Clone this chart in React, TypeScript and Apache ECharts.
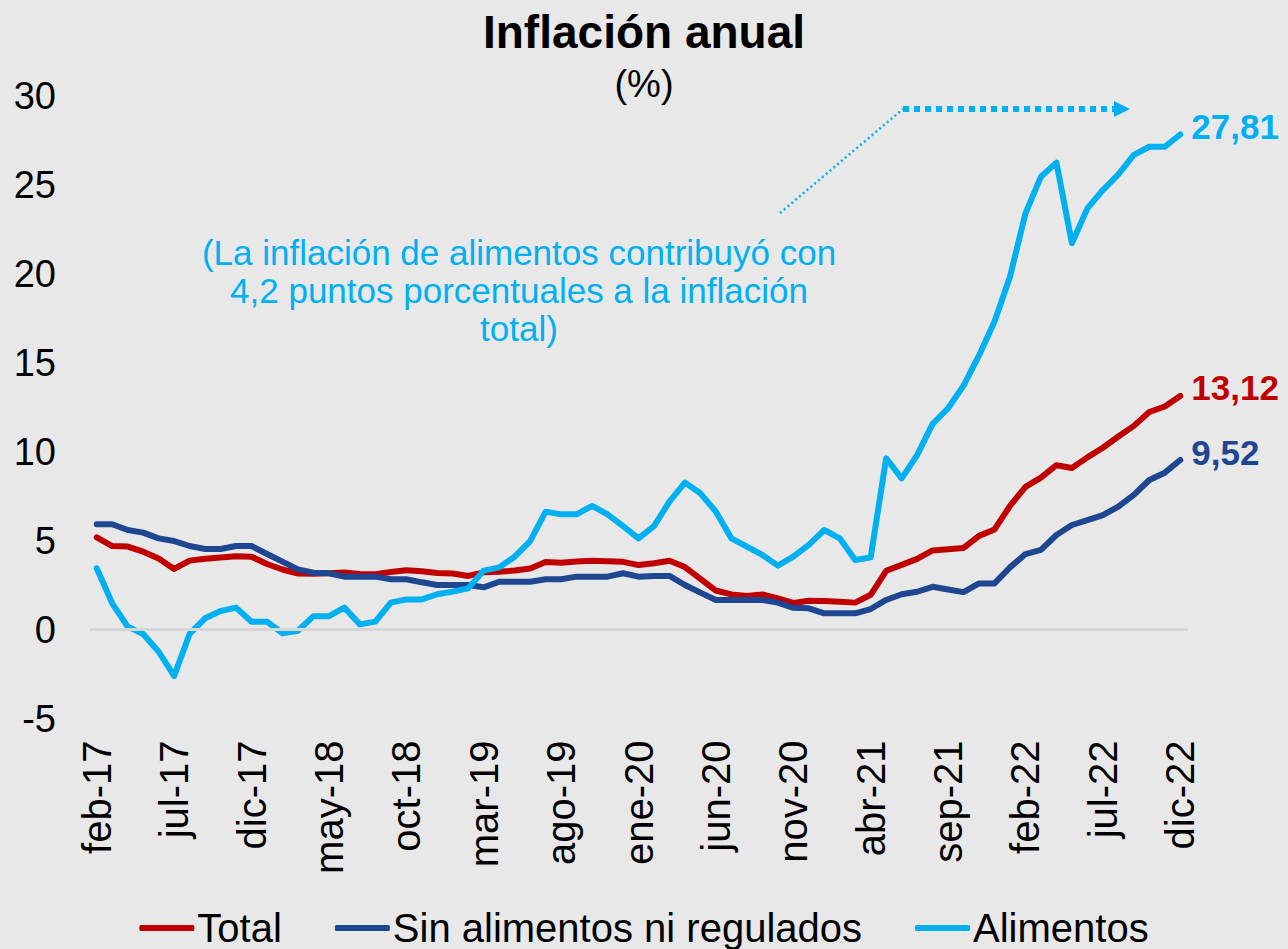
import React, { useEffect, useRef } from "react";
import * as echarts from "echarts";

const months: string[] = [
  "feb-17","mar-17","abr-17","may-17","jun-17","jul-17","ago-17","sep-17","oct-17","nov-17","dic-17",
  "ene-18","feb-18","mar-18","abr-18","may-18","jun-18","jul-18","ago-18","sep-18","oct-18","nov-18","dic-18",
  "ene-19","feb-19","mar-19","abr-19","may-19","jun-19","jul-19","ago-19","sep-19","oct-19","nov-19","dic-19",
  "ene-20","feb-20","mar-20","abr-20","may-20","jun-20","jul-20","ago-20","sep-20","oct-20","nov-20","dic-20",
  "ene-21","feb-21","mar-21","abr-21","may-21","jun-21","jul-21","ago-21","sep-21","oct-21","nov-21","dic-21",
  "ene-22","feb-22","mar-22","abr-22","may-22","jun-22","jul-22","ago-22","sep-22","oct-22","nov-22","dic-22",
];

const total: number[] = [
  5.18, 4.69, 4.66, 4.37, 3.99, 3.40, 3.87, 3.97, 4.05, 4.12, 4.09,
  3.68, 3.37, 3.14, 3.13, 3.16, 3.20, 3.12, 3.10, 3.23, 3.33, 3.27, 3.18,
  3.15, 3.01, 3.21, 3.25, 3.31, 3.43, 3.79, 3.75, 3.82, 3.86, 3.84, 3.80,
  3.62, 3.72, 3.86, 3.51, 2.85, 2.19, 1.97, 1.88, 1.97, 1.75, 1.49, 1.61,
  1.60, 1.56, 1.51, 1.95, 3.30, 3.63, 3.97, 4.44, 4.51, 4.58, 5.26, 5.62,
  6.94, 8.01, 8.53, 9.23, 9.07, 9.67, 10.21, 10.84, 11.44, 12.22, 12.53, 13.12,
];

const sinAlimentos: number[] = [
  5.91, 5.91, 5.59, 5.44, 5.12, 4.97, 4.69, 4.52, 4.52, 4.69, 4.69,
  4.24, 3.81, 3.38, 3.19, 3.16, 2.97, 2.97, 2.97, 2.82, 2.82, 2.65, 2.50,
  2.50, 2.50, 2.37, 2.68, 2.68, 2.68, 2.82, 2.82, 2.97, 2.97, 2.97, 3.16,
  2.97, 3.01, 3.01, 2.50, 2.07, 1.66, 1.66, 1.66, 1.66, 1.51, 1.22, 1.19,
  0.91, 0.91, 0.91, 1.15, 1.66, 1.98, 2.12, 2.40, 2.25, 2.10, 2.59, 2.59,
  3.49, 4.24, 4.47, 5.31, 5.87, 6.15, 6.43, 6.90, 7.56, 8.40, 8.81, 9.52,
];

const alimentos: number[] = [
  3.44, 1.47, 0.16, -0.25, -1.25, -2.61, -0.25, 0.63, 1.04, 1.23, 0.44,
  0.44, -0.21, -0.07, 0.75, 0.75, 1.23, 0.29, 0.44, 1.51, 1.69, 1.69, 1.98,
  2.13, 2.31, 3.31, 3.49, 4.09, 4.97, 6.62, 6.47, 6.47, 6.94, 6.47, 5.81,
  5.12, 5.81, 7.18, 8.25, 7.65, 6.62, 5.12, 4.65, 4.19, 3.59, 4.09, 4.75,
  5.59, 5.12, 3.90, 4.05, 9.62, 8.49, 9.80, 11.55, 12.43, 13.70, 15.40, 17.30,
  19.82, 23.38, 25.44, 26.23, 21.70, 23.66, 24.69, 25.57, 26.66, 27.12, 27.12, 27.81,
];

const seriesNames = ["Total", "Sin alimentos ni regulados", "Alimentos"];
const seriesColors = ["#c00000", "#1e4691", "#00b0f0"];
const annotation = "(La inflación de alimentos contribuyó con\n4,2 puntos porcentuales a la inflación\ntotal)";

const FONT = "'Liberation Sans', Arial, sans-serif";

export default function App() {
  const ref = useRef<HTMLDivElement>(null);
  useEffect(() => {
    if (!ref.current) return;
    const chart = echarts.init(ref.current, undefined, { renderer: "svg" });
    const fmt = (p: any) => Number(p.value).toFixed(2).replace(".", ",");
    const mk = (i: number, data: number[]) => ({
      name: seriesNames[i],
      type: "line",
      data,
      symbol: "none",
      lineStyle: { color: seriesColors[i], width: 6, cap: "round", join: "round" },
      itemStyle: { color: seriesColors[i] },
      endLabel: {
        show: true,
        formatter: fmt,
        color: seriesColors[i],
        fontSize: 35,
        fontWeight: "bold",
        fontFamily: FONT,
        offset: [3, -8],
      },
    });
    const s0: any = mk(0, total);
    s0.markLine = {
      silent: true,
      symbol: ["none", "none"],
      label: { show: false },
      lineStyle: { color: "#d6d6d6", width: 3, type: "solid" },
      data: [{ yAxis: 0 }],
    };
    chart.setOption({
      animation: false,
      backgroundColor: "#e8e8e8",
      textStyle: { fontFamily: FONT },
      title: [
        {
          text: "Inflación anual",
          left: "center",
          top: 4,
          textStyle: { fontSize: 46, fontWeight: "bold", color: "#000", fontFamily: FONT },
        },
        {
          text: "(%)",
          left: "center",
          top: 60,
          textStyle: { fontSize: 38, fontWeight: "normal", color: "#000", fontFamily: FONT },
        },
      ],
      grid: { left: 89, right: 100, top: 95.5, bottom: 230.5, containLabel: false },
      xAxis: {
        type: "category",
        data: months,
        boundaryGap: true,
        axisLine: { show: false, onZero: false },
        axisTick: { show: false },
        splitLine: { show: false },
        axisLabel: {
          interval: 4,
          rotate: 90,
          fontSize: 40,
          color: "#000",
          margin: 22,
          fontFamily: FONT,
        },
      },
      yAxis: {
        type: "value",
        min: -5,
        max: 30,
        interval: 5,
        axisLine: { show: false },
        axisTick: { show: false },
        splitLine: { show: false },
        axisLabel: { fontSize: 38, color: "#000", margin: 33, fontFamily: FONT },
      },
      legend: {
        data: seriesNames,
        left: "center",
        top: 903,
        icon: "roundRect",
        itemWidth: 55,
        itemHeight: 6,
        itemGap: 53,
        textStyle: {
          fontSize: 40,
          lineHeight: 40,
          color: "#000",
          fontFamily: FONT,
          padding: [0, 0, 0, -2],
        },
      },
      series: [s0, mk(1, sinAlimentos), mk(2, alimentos)],
      graphic: [
        {
          type: "text",
          x: 519,
          y: 233,
          style: {
            text: annotation,
            fill: "#00b0f0",
            fontSize: 35,
            fontFamily: FONT,
            lineHeight: 38,
            textAlign: "center",
            textVerticalAlign: "top",
          },
        },
        {
          type: "polyline",
          shape: { points: [[780, 213], [903, 109]] },
          style: { stroke: "#00b0f0", lineWidth: 2.5, lineDash: [2, 3], fill: null },
        },
        {
          type: "polyline",
          shape: { points: [[903, 109], [1115, 109]] },
          style: { stroke: "#00b0f0", lineWidth: 6, lineDash: [6, 5], fill: null },
        },
        {
          type: "polygon",
          shape: { points: [[1114, 101], [1130, 109], [1114, 117]] },
          style: { fill: "#00b0f0" },
        },
      ],
    });
    return () => chart.dispose();
  }, []);
  return (
    <div
      ref={ref}
      style={{ position: "fixed", left: 0, top: 0, width: 1288, height: 949 }}
    />
  );
}
